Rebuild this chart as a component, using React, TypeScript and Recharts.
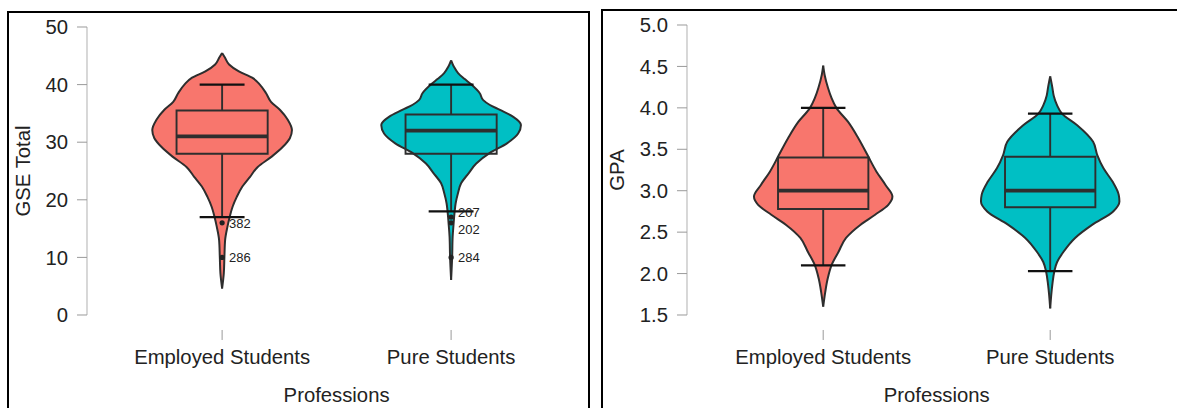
import React from 'react';
import { ComposedChart, Area, XAxis, YAxis, ReferenceArea, ReferenceLine, Scatter } from 'recharts';

const FONT = '"Liberation Sans", Arial, Helvetica, sans-serif';
const TEXT = '#222';
const INK = '#2e2e2e';

const categories = ['Employed Students', 'Pure Students'];
const categoryPositions = [1, 2];
const groupColors = ['#F8766D', '#00BFC4'];

// Violin outlines: [value, relative density (max = 1)]
const gseEmployedDensity: [number, number][] = [
  [45.5, 0], [44.7, 0.04], [43.5, 0.1], [42.3, 0.24], [41.2, 0.43], [40.0, 0.54], [38.5, 0.63],
  [37.0, 0.7], [35.6, 0.83], [33.9, 0.94], [32.1, 1.0], [30.7, 0.97], [29.2, 0.87], [27.5, 0.71],
  [25.7, 0.51], [24.0, 0.4], [22.3, 0.29], [20.5, 0.21], [18.8, 0.15], [17.1, 0.11], [15.3, 0.076],
  [13.0, 0.043], [10.1, 0.033], [7.2, 0.024], [4.6, 0],
];
const gsePureDensity: [number, number][] = [
  [44.2, 0], [43.1, 0.04], [42.0, 0.1], [41.0, 0.19], [40.0, 0.29], [38.5, 0.41], [37.3, 0.46],
  [36.5, 0.55], [35.6, 0.7], [34.4, 0.89], [33.0, 1.0], [31.5, 0.96], [29.8, 0.8], [28.1, 0.55],
  [26.3, 0.36], [24.6, 0.25], [22.9, 0.145], [21.1, 0.097], [19.4, 0.065], [17.9, 0.05],
  [15.9, 0.036], [13.6, 0.022], [10.1, 0.015], [6.1, 0],
];
const gpaEmployedDensity: [number, number][] = [
  [4.51, 0], [4.4, 0.02], [4.24, 0.07], [4.12, 0.12], [4.0, 0.19], [3.83, 0.36], [3.63, 0.51],
  [3.43, 0.64], [3.23, 0.77], [3.07, 0.9], [2.93, 1.0], [2.83, 0.94], [2.71, 0.75], [2.59, 0.54],
  [2.43, 0.33], [2.26, 0.22], [2.1, 0.12], [1.94, 0.065], [1.78, 0.03], [1.6, 0],
];
const gpaPureDensity: [number, number][] = [
  [4.38, 0], [4.25, 0.03], [4.15, 0.05], [4.03, 0.1], [3.93, 0.17], [3.79, 0.39], [3.59, 0.62],
  [3.43, 0.68], [3.27, 0.77], [3.11, 0.9], [2.95, 0.99], [2.87, 1.0], [2.75, 0.91], [2.59, 0.61],
  [2.43, 0.36], [2.26, 0.19], [2.14, 0.1], [2.02, 0.058], [1.86, 0.03], [1.58, 0],
];

// Box statistics: [lower whisker, Q1, median, Q3, upper whisker]
const gseEmployedBox = [17, 28, 31, 35.5, 40];
const gsePureBox = [18, 28, 32, 34.8, 40];
const gpaEmployedBox = [2.1, 2.78, 3.0, 3.4, 4.0];
const gpaPureBox = [2.03, 2.8, 3.0, 3.41, 3.93];

// Outliers: value, case id, value level where the label sits
const gseEmployedOutliers = [
  { value: 16, id: '382', labelAt: 16 },
  { value: 10, id: '286', labelAt: 10 },
];
const gsePureOutliers = [
  { value: 17, id: '207', labelAt: 17.9 },
  { value: 16, id: '202', labelAt: 14.8 },
  { value: 10, id: '284', labelAt: 10 },
];

const gseTicks = [0, 10, 20, 30, 40, 50];
const gpaTicks = [1.5, 2.0, 2.5, 3.0, 3.5, 4.0, 4.5, 5.0];

const VIOLIN_W = 0.305;
const BOX_W = 0.199;
const CAP_W = 0.098;

type Outlier = { value: number; id: string; labelAt: number };

function CatTick(props: any) {
  const { x, y, payload } = props;
  const idx = categoryPositions.indexOf(payload.value);
  return (
    <g>
      <line x1={x} x2={x} y1={y + 15} y2={y + 25} stroke="#9a9a9a" strokeWidth={1} />
      <text x={x} y={y + 49} textAnchor="middle" fontSize={20.3} fill={TEXT} fontFamily={FONT}>
        {categories[idx]}
      </text>
    </g>
  );
}

function Panel(props: {
  left: number;
  width: number;
  top: number;
  xDomain: [number, number];
  yDomain: [number, number];
  yTicks: number[];
  decimals: number;
  yLabel: string;
  yLabelX: number;
  densities: [number, number][][];
  boxes: number[][];
  outliers: Outlier[][];
}) {
  const { left, width, top, xDomain, yDomain, yTicks, decimals, yLabel, yLabelX, densities, boxes, outliers } = props;
  const violins = densities.map((dens, i) =>
    dens.map(([v, d]) => ({
      y: v,
      range: [categoryPositions[i] - d * VIOLIN_W, categoryPositions[i] + d * VIOLIN_W],
    }))
  );
  const outlierPts = outliers.map((list, i) => list.map((o) => ({ x: categoryPositions[i], y: o.value, id: o.id })));
  const outlierLabels = outliers.map((list, i) => list.map((o) => ({ x: categoryPositions[i], y: o.labelAt, id: o.id })));

  return (
    <div style={{ position: 'absolute', left, top: 0 }}>
      <ComposedChart
        width={width}
        height={408}
        layout="vertical"
        margin={{ top, right: 0, bottom: 0, left: 0 }}
      >
        <XAxis
          type="number"
          dataKey="x"
          domain={xDomain}
          allowDataOverflow
          ticks={categoryPositions}
          interval={0}
          height={93}
          axisLine={false}
          tickLine={false}
          tickSize={0}
          tickMargin={0}
          tick={<CatTick />}
          label={(p: any) => {
            const vb = p.viewBox || {};
            return (
              <text
                x={vb.x + vb.width / 2}
                y={vb.y + 87}
                textAnchor="middle"
                fontSize={20.3}
                fill={TEXT}
                fontFamily={FONT}
              >
                Professions
              </text>
            );
          }}
        />
        <YAxis
          type="number"
          dataKey="y"
          domain={yDomain}
          reversed
          allowDataOverflow
          ticks={yTicks}
          interval={0}
          width={87}
          tickSize={10}
          tickMargin={9}
          axisLine={{ stroke: '#b0b0b0', strokeWidth: 1 }}
          tickLine={{ stroke: '#9a9a9a', strokeWidth: 1 }}
          tick={{ fontSize: 20.3, fill: TEXT, fontFamily: FONT }}
          tickFormatter={(v: number) => v.toFixed(decimals)}
          label={(p: any) => {
            const vb = p.viewBox || {};
            const cy = vb.y + vb.height / 2;
            return (
              <text
                transform={`translate(${yLabelX}, ${cy}) rotate(-90)`}
                textAnchor="middle"
                fontSize={20.3}
                fill={TEXT}
                fontFamily={FONT}
              >
                {yLabel}
              </text>
            );
          }}
        />
        {violins.map((data, i) => (
          <Area
            key={`v${i}`}
            data={data}
            dataKey="range"
            type="monotone"
            fill={groupColors[i]}
            fillOpacity={1}
            stroke={INK}
            strokeWidth={2}
            dot={false}
            activeDot={false}
            isAnimationActive={false}
          />
        ))}
        {boxes.map((b, i) => {
          const c = categoryPositions[i];
          return (
            <ReferenceArea
              key={`b${i}`}
              x1={c - BOX_W}
              x2={c + BOX_W}
              y1={b[1]}
              y2={b[3]}
              fill="none"
              fillOpacity={0}
              stroke={INK}
              strokeWidth={1.9}
              strokeOpacity={1}
            />
          );
        })}
        {boxes.map((b, i) => {
          const c = categoryPositions[i];
          return (
            <ReferenceLine
              key={`m${i}`}
              segment={[{ x: c - BOX_W, y: b[2] }, { x: c + BOX_W, y: b[2] }]}
              stroke={INK}
              strokeWidth={3.8}
            />
          );
        })}
        {boxes.map((b, i) => {
          const c = categoryPositions[i];
          return (
            <ReferenceLine
              key={`wu${i}`}
              segment={[{ x: c, y: b[3] }, { x: c, y: b[4] }]}
              stroke={INK}
              strokeWidth={1.9}
            />
          );
        })}
        {boxes.map((b, i) => {
          const c = categoryPositions[i];
          return (
            <ReferenceLine
              key={`wl${i}`}
              segment={[{ x: c, y: b[1] }, { x: c, y: b[0] }]}
              stroke={INK}
              strokeWidth={1.9}
            />
          );
        })}
        {boxes.map((b, i) => {
          const c = categoryPositions[i];
          return (
            <ReferenceLine
              key={`cu${i}`}
              segment={[{ x: c - CAP_W, y: b[4] }, { x: c + CAP_W, y: b[4] }]}
              stroke="#111"
              strokeWidth={2.3}
            />
          );
        })}
        {boxes.map((b, i) => {
          const c = categoryPositions[i];
          return (
            <ReferenceLine
              key={`cl${i}`}
              segment={[{ x: c - CAP_W, y: b[0] }, { x: c + CAP_W, y: b[0] }]}
              stroke="#111"
              strokeWidth={2.3}
            />
          );
        })}
        {outlierPts.map((data, i) => (
          <Scatter
            key={`o${i}`}
            data={data}
            dataKey="y"
            isAnimationActive={false}
            shape={(p: any) => <circle cx={p.cx} cy={p.cy} r={2.6} fill="#222" />}
          />
        ))}
        {outlierLabels.map((data, i) => (
          <Scatter
            key={`ol${i}`}
            data={data}
            dataKey="y"
            isAnimationActive={false}
            shape={(p: any) => (
              <text x={p.cx + 7} y={p.cy} dy="0.36em" fontSize={13} fill={TEXT} fontFamily={FONT}>
                {p.payload.id}
              </text>
            )}
          />
        ))}
      </ComposedChart>
    </div>
  );
}

export default function App() {
  return (
    <div
      style={{
        position: 'absolute',
        left: 0,
        top: 0,
        width: 1177,
        height: 408,
        overflow: 'hidden',
        background: '#fff',
        fontFamily: FONT,
      }}
    >
      <div
        style={{
          position: 'absolute',
          left: 7,
          top: 11,
          width: 583,
          height: 430,
          boxSizing: 'border-box',
          border: '2.5px solid #000',
        }}
      />
      <div
        style={{
          position: 'absolute',
          left: 601,
          top: 9,
          width: 620,
          height: 430,
          boxSizing: 'border-box',
          border: '2.5px solid #000',
        }}
      />
      <Panel
        left={0}
        width={87 + 2.18 * 229}
        top={27}
        xDomain={[0.41, 2.59]}
        yDomain={[0, 50]}
        yTicks={gseTicks}
        decimals={0}
        yLabel="GSE Total"
        yLabelX={30}
        densities={[gseEmployedDensity, gsePureDensity]}
        boxes={[gseEmployedBox, gsePureBox]}
        outliers={[gseEmployedOutliers, gsePureOutliers]}
      />
      <Panel
        left={600}
        width={87 + 2.2 * 227}
        top={25}
        xDomain={[0.4, 2.6]}
        yDomain={[1.5, 5]}
        yTicks={gpaTicks}
        decimals={1}
        yLabel="GPA"
        yLabelX={24}
        densities={[gpaEmployedDensity, gpaPureDensity]}
        boxes={[gpaEmployedBox, gpaPureBox]}
        outliers={[[], []]}
      />
    </div>
  );
}
